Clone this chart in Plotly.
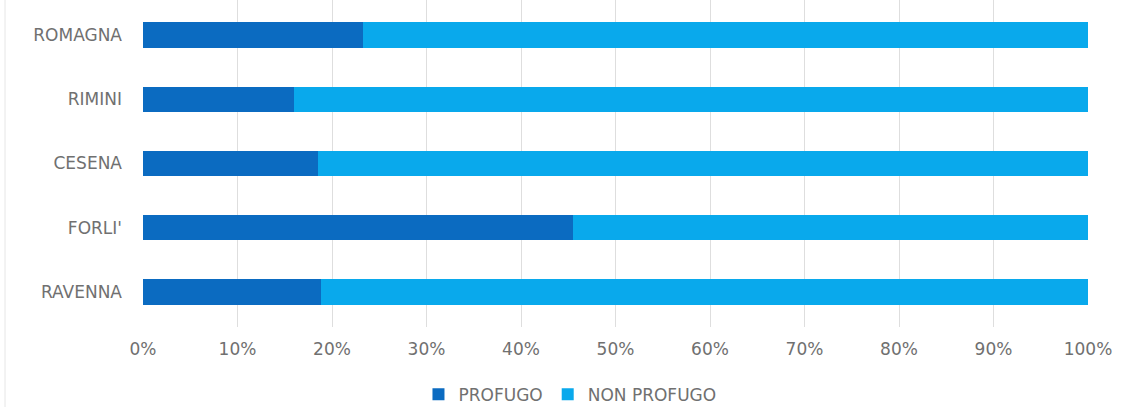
import plotly.graph_objects as go

categories = ["ROMAGNA", "RIMINI", "CESENA", "FORLI'", "RAVENNA"]
profugo = [23.3, 16.0, 18.5, 45.5, 18.8]
non_profugo = [76.7, 84.0, 81.5, 54.5, 81.2]
tick_vals = [0, 10, 20, 30, 40, 50, 60, 70, 80, 90, 100]
tick_text = ["0%", "10%", "20%", "30%", "40%", "50%", "60%", "70%", "80%", "90%", "100%"]

FONT = "DejaVu Sans, Verdana, sans-serif"
GRAY = "#707070"

fig = go.Figure()
fig.add_trace(go.Bar(y=categories, x=profugo, name="PROFUGO", orientation="h",
                     marker=dict(color="#0B6BC1", line=dict(width=0))))
fig.add_trace(go.Bar(y=categories, x=non_profugo, name="NON PROFUGO", orientation="h",
                     marker=dict(color="#09A9EC", line=dict(width=0))))

fig.update_layout(
    barmode="stack",
    bargap=0.61,
    width=1122, height=407,
    margin=dict(l=143, r=34, t=0, b=80, autoexpand=False),
    paper_bgcolor="white", plot_bgcolor="white",
    font=dict(family=FONT, size=17, color=GRAY),
    legend=dict(orientation="h", xref="container", x=0.508, xanchor="center",
                yref="container", y=0.03, yanchor="middle",
                font=dict(size=17, color=GRAY), itemwidth=30,
                traceorder="normal"),
    showlegend=True,
)
fig.update_xaxes(range=[0, 100], tickvals=tick_vals, ticktext=tick_text,
                 showgrid=True, gridcolor="#DEDEDE", gridwidth=1,
                 ticks="", zeroline=False, showline=False, fixedrange=True,
                 ticklabelstandoff=10, automargin=False)
fig.update_yaxes(range=[4.545, -0.545], showgrid=False, ticks="", showline=False,
                 ticklabelstandoff=20, automargin=False, fixedrange=True)

fig.add_shape(type="line", xref="paper", yref="paper", x0=-0.146, x1=-0.146, y0=-0.25, y1=1,
              line=dict(color="#E6E6E6", width=1))

fig.write_html("out.html", config={"displayModeBar": False},
               post_script="document.body.style.margin='0';")
